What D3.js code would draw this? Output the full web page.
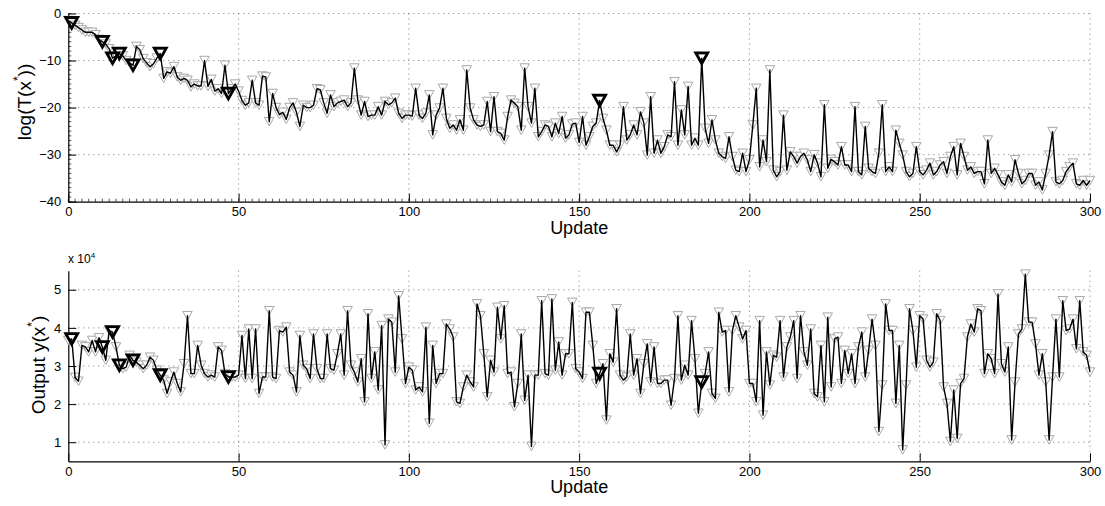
<!DOCTYPE html>
<html>
<head>
<meta charset="utf-8">
<script src="https://cdn.jsdelivr.net/npm/d3@7"></script>
<style>
  body { margin: 0; background: #fff; }
  text { font-family: "Liberation Sans", Arial, sans-serif; }
</style>
</head>
<body>
<svg id="chart" width="1105" height="506"></svg>
<script>
// log(T(x*)) per update (0..300)
const logT = [
  -1.5,-2,-2.5,-3,-3.5,-4,-4,-4,-4.5,-5.5,
  -6,-6.5,-7.5,-9.5,-9,-8.5,-9,-10,-10.5,-11,
  -7,-7.7,-9.6,-10.5,-11.3,-10.7,-9.5,-8.5,-13.8,-12.4,
  -12.7,-11.3,-13.5,-14.2,-13.8,-14.2,-15.6,-15,-15.4,-15.4,
  -10,-15.5,-14,-16.5,-16,-17,-11,-17,-16,-15,
  -16.5,-18.5,-19.5,-19,-14.2,-19,-19.5,-13.3,-13.5,-23,
  -17,-20,-21.5,-21,-22.5,-20,-19,-21,-24,-19.5,
  -20,-20,-19.5,-16,-16.2,-19,-21.2,-17.3,-19.8,-19,
  -18.7,-18.4,-19.8,-19,-11.6,-18.4,-21.6,-18.7,-21.9,-21.6,
  -21.6,-19.8,-21.6,-18.7,-19.4,-19,-18,-21.2,-22.3,-21.6,
  -21.6,-21.8,-15.9,-21.6,-22.3,-21.2,-17.3,-25.8,-21.6,-20.1,
  -15.9,-22.3,-24.4,-23.7,-24.8,-22.6,-24.8,-12,-20.1,-22.6,
  -23.7,-24,-23.7,-18.7,-25.1,-17.7,-25.1,-25.5,-26.9,-21.9,
  -18.4,-19.1,-19.8,-24.8,-11.6,-19.8,-23.3,-15.9,-26.2,-25.1,
  -23.7,-24,-26.2,-23.3,-25.5,-21.9,-26.5,-25.8,-23.5,-23.3,
  -27.4,-21.9,-28,-26.2,-24,-23.3,-18.5,-22.3,-24.8,-28,
  -28,-29.4,-28,-19.8,-26.9,-25.8,-23.7,-25.8,-20.9,-23.3,
  -30.1,-17.7,-29.7,-26.9,-29.7,-28.3,-25.8,-26.2,-14.5,-28,
  -20.5,-25.8,-15.5,-28,-26.5,-28,-9.5,-24.4,-27.6,-22.6,
  -26.9,-29.7,-30.4,-30.8,-26.2,-30.4,-33.3,-33.6,-29.7,-33.6,
  -31.1,-23.7,-15.9,-32.6,-26.9,-31.5,-12,-33.3,-34.7,-33.6,
  -21.6,-33.3,-29.4,-30.4,-31.8,-30.4,-29.7,-31.1,-33.6,-30,
  -31.8,-34.7,-19.4,-32.9,-31,-31.5,-32.2,-28.3,-32.2,-32.2,
  -33.6,-19.8,-33.6,-34.3,-24,-32.9,-33.6,-34,-29.7,-19.4,
  -33.6,-32.6,-33.6,-24.8,-27.6,-30.1,-33.6,-34.7,-34,-28.3,
  -33.6,-34.3,-33.3,-31.8,-34.3,-33.6,-32.2,-31.5,-34,-30.4,
  -28.3,-34.3,-27.6,-30.4,-33.3,-32.6,-34,-33.6,-33.6,-36.2,
  -26.9,-34,-32.9,-34.3,-35.8,-36.5,-34.3,-35.8,-31.1,-34,
  -36.2,-35.5,-34,-34,-36.5,-35.8,-37.5,-34,-30.1,-25.1,
  -35.8,-36.2,-35.5,-33.6,-32.6,-31.8,-36.2,-36.5,-35.5,-36.5,
  -35.5
];

// output y(x*) per update, in units of 10^4
const outputY = [
  3.67,3.71,2.7,2.6,3.54,3.5,3.37,3.67,3.37,3.74,
  3.5,3.15,3.93,3.89,3.5,3.02,2.93,2.97,3.28,3.15,
  3.1,3.02,2.93,3.02,3.23,3.15,2.89,2.76,2.63,2.28,
  2.58,2.84,2.54,2.32,3.06,4.32,2.8,2.8,3.54,3.02,
  2.8,2.71,2.76,2.71,3.5,3.41,2.8,2.71,2.71,2.71,
  2.76,3.8,2.67,3.97,2.67,3.97,2.28,2.71,2.71,4.45,
  2.71,2.67,3.93,3.89,4.02,2.84,2.76,2.32,3.8,3.02,
  2.93,2.67,3.84,2.93,2.67,2.67,3.84,2.93,2.89,3.32,
  3.84,2.76,4.45,3.02,2.84,2.58,3.19,2.06,4.37,2.67,
  3.37,2.37,4.06,0.93,4.23,4.15,2.84,4.84,3.71,2.54,
  2.97,2.89,2.37,2.45,2.32,4.02,1.5,3.54,2.54,2.8,
  2.8,4.1,3.97,3.76,2.06,2.02,2.45,2.76,2.58,2.45,
  4.63,4.32,3.32,2.19,3.15,2.84,4.54,3.71,4.58,2.8,
  2.84,1.93,2.54,3.84,2.1,2.76,0.89,2.76,2.76,4.71,
  2.8,2.76,4.76,2.89,3.63,2.76,3.32,3.32,4.67,2.93,
  2.84,2.67,4.41,4.41,3.54,2.54,2.8,3.06,1.58,3.32,
  3.1,4.5,2.76,2.63,2.71,3.84,2.76,3.19,2.28,3.06,
  3.58,2.58,3.5,2.54,2.54,2.63,2.63,1.97,2.67,4.32,
  2.63,3.02,2.76,4.19,3.19,1.76,2.58,2.8,3.37,2.28,
  2.15,4.41,3.89,3.93,2.32,3.93,4.32,4.02,3.71,3.93,
  2.54,2.54,2.06,4.19,1.71,3.37,2.5,3.28,3.23,4.19,
  2.71,3.5,3.76,4.19,2.67,4.32,3.37,3.02,3.97,2.28,
  2.19,3.54,2.06,4.28,2.45,3.71,3.76,2.54,3.41,2.8,
  3.32,2.54,3.5,3.89,2.71,3.41,4.23,3.54,1.28,2.5,
  4.63,3.93,3.93,2.02,3.54,0.8,2.5,4.5,3.93,2.97,
  4.32,4.23,3.15,2.97,3.1,4.37,4.19,2.45,2.02,1.02,
  2.37,1.1,2.54,2.67,3.76,4.1,3.89,4.5,4.45,2.8,
  3.32,3.19,2.8,4.89,3.06,2.84,3.5,1.06,2.58,3.84,
  3.97,5.41,4.15,4.15,3.58,2.76,3.32,2.58,1.06,2.71,
  4.23,2.71,4.71,3.93,3.97,4.23,3.45,4.71,3.37,3.28,
  2.84
];

// updates marked with the bold triangles
const bestUpdates = [1, 10, 13, 15, 19, 27, 47, 156, 186];

const xTicks = [0, 50, 100, 150, 200, 250, 300];
const topTicks = [-40, -30, -20, -10, 0];
const botTicks = [1, 2, 3, 4, 5];

const svg = d3.select("#chart");

// downward triangle centred on the point
function tri(w) {
    const h = w * 0.9;
    return `M${-w / 2},${-h / 2}L${w / 2},${-h / 2}L0,${h / 2}Z`;
}

function drawPanel(cfg) {
    const x = d3.scaleLinear().domain([0, 300]).range([68.3, 1090]);
    const y = d3.scaleLinear().domain(cfg.domain).range([cfg.bottom, cfg.top]);
    const g = svg.append("g");

    // dotted grid
    g.append("g").selectAll("line")
        .data(cfg.yTicks.filter(d => d !== cfg.domain[0]))
        .enter().append("line")
        .attr("x1", x(0)).attr("x2", x(300))
        .attr("y1", d => y(d)).attr("y2", d => y(d))
        .attr("stroke", "#555").attr("stroke-width", 0.8)
        .attr("stroke-dasharray", "1,4");
    g.append("g").selectAll("line")
        .data(xTicks.filter(d => d !== 0))
        .enter().append("line")
        .attr("x1", d => x(d)).attr("x2", d => x(d))
        .attr("y1", cfg.top).attr("y2", cfg.bottom)
        .attr("stroke", "#555").attr("stroke-width", 0.8)
        .attr("stroke-dasharray", "1,4");

    // minor ticks (top panel only)
    if (cfg.minor) {
        g.append("g").selectAll("line")
            .data(d3.range(0, 301, 2))
            .enter().append("line")
            .attr("x1", d => x(d)).attr("x2", d => x(d))
            .attr("y1", cfg.bottom).attr("y2", cfg.bottom - 3)
            .attr("stroke", "#555").attr("stroke-width", 1);
        g.append("g").selectAll("line")
            .data(d3.range(cfg.domain[0], cfg.domain[1] + 0.01, 1))
            .enter().append("line")
            .attr("x1", x(0)).attr("x2", x(0) + 3)
            .attr("y1", d => y(d)).attr("y2", d => y(d))
            .attr("stroke", "#555").attr("stroke-width", 1);
    }

    // axes
    const xAxis = g.append("g")
        .attr("transform", `translate(0,${cfg.bottom})`)
        .call(d3.axisBottom(x).tickValues(xTicks).tickSize(-8).tickPadding(5).tickSizeOuter(0));
    const yAxis = g.append("g")
        .attr("transform", `translate(${x(0)},0)`)
        .call(d3.axisLeft(y).tickValues(cfg.yTicks).tickFormat(d3.format("d"))
            .tickSize(-8).tickPadding(7).tickSizeOuter(0));
    [xAxis, yAxis].forEach(a => {
        a.select(".domain").attr("stroke", "#000").attr("stroke-width", 1.2);
        a.selectAll(".tick line").attr("stroke", "#000");
        a.selectAll("text").attr("font-size", 13).attr("fill", "#000")
            .attr("font-family", "Liberation Sans, Arial, sans-serif");
    });

    // markers, line, bold markers
    const data = cfg.values.map((v, i) => ({ i, v }));
    g.append("g").selectAll("path")
        .data(data)
        .enter().append("path")
        .attr("d", tri(9.5))
        .attr("transform", d => `translate(${x(d.i)},${y(d.v)})`)
        .attr("fill", "#fff")
        .attr("stroke", "#a8a8a8")
        .attr("stroke-width", 1);

    g.append("path")
        .datum(data)
        .attr("fill", "none")
        .attr("stroke", "#000")
        .attr("stroke-width", 1.4)
        .attr("stroke-linejoin", "round")
        .attr("d", d3.line().x(d => x(d.i)).y(d => y(d.v)));

    g.append("g").selectAll("path")
        .data(bestUpdates.map(i => data[i]))
        .enter().append("path")
        .attr("d", tri(12))
        .attr("transform", d => `translate(${x(d.i)},${y(d.v)})`)
        .attr("fill", "none")
        .attr("stroke", "#000")
        .attr("stroke-width", 2.8);

    // labels
    g.append("text")
        .attr("x", (x(0) + x(300)) / 2)
        .attr("y", cfg.bottom + 32)
        .attr("text-anchor", "middle")
        .attr("font-size", 18)
        .text("Update");

    const yl = g.append("text")
        .attr("transform", `translate(${cfg.labelX},${cfg.labelY}) rotate(-90)`)
        .attr("text-anchor", "middle")
        .attr("font-size", 19);
    yl.append("tspan").text(cfg.labelPre);
    yl.append("tspan").attr("dy", -9).attr("font-size", 12).text("*");
    yl.append("tspan").attr("dy", 9).text(cfg.labelPost);

    return { x, y, g };
}

drawPanel({
    values: logT, domain: [-40, 0], top: 13.5, bottom: 201.7,
    yTicks: topTicks, minor: true, labelX: 31, labelY: 102,
    labelPre: "log(T(x", labelPost: "))"
});

const bot = drawPanel({
    values: outputY, domain: [0.5, 5.5], top: 270.7, bottom: 461.3,
    yTicks: botTicks, minor: false, labelX: 45, labelY: 365,
    labelPre: "Output y(x", labelPost: ")"
});

// exponent label
const ex = bot.g.append("text")
    .attr("x", 68).attr("y", 263)
    .attr("font-size", 12);
ex.append("tspan").text("x 10");
ex.append("tspan").attr("dy", -5).attr("font-size", 8).text("4");
</script>
</body>
</html>
